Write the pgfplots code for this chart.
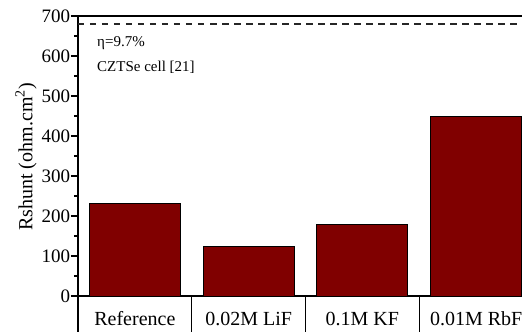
\documentclass[border=0pt]{standalone}
\usepackage{pgfplots}
\pgfplotsset{compat=1.18}
\usepackage{fontspec}
\setmainfont{Liberation Serif}
\definecolor{barred}{RGB}{128,0,0}

\begin{document}
\begin{tikzpicture}[font=\fontsize{19}{22}\selectfont]
\begin{axis}[
  at={(0,0)}, anchor=south west,
  scale only axis,
  width=455pt, height=280pt,
  xmin=-0.5, xmax=3.5,
  ymin=0, ymax=700,
  axis line style={line width=1.1pt},
  every tick/.style={black, line width=1.1pt},
  tick align=outside,
  xtick pos=bottom, ytick pos=left,
  % category boxes: separators at the boundaries, names centred between them
  xtick={-0.5,0.5,1.5,2.5,3.5},
  xticklabels={Reference, 0.02M LiF, 0.1M KF, 0.01M RbF, {}},
  xtick style={/pgfplots/major tick length=36pt},
  xticklabel style={at={(axis cs:\tick,0)}, anchor=base, xshift=56.875pt, yshift=-25.5pt,
    font=\fontsize{20}{24}\selectfont},
  ytick={0,100,...,700},
  minor y tick num=1,
  ytick style={/pgfplots/major tick length=7pt, /pgfplots/minor tick length=4pt},
  /pgf/number format/assume math mode=true,
  ylabel={Rshunt (ohm.cm\textsuperscript{2})},
  ylabel style={at={(axis description cs:0,0.5)}, anchor=center, yshift=52pt, xshift=-1pt,
    font=\fontsize{20}{24}\selectfont},
  ybar, bar width=0.8,
  clip=false,
]
\addplot[ybar, fill=barred, draw=black, line width=0.9pt]
  coordinates {(0,232) (1,123) (2,178) (3,448)};
% efficiency level of the reference cell
\addplot[sharp plot, black!85, line width=1.1pt, dash pattern=on 6.5pt off 5.5pt]
  coordinates {(-0.5,680) (3.5,680)};
\node[anchor=base west, font=\fontsize{15}{17}\selectfont, inner sep=0pt]
  at (axis cs:-0.333,624) {η=9.7\%};
\node[anchor=base west, font=\fontsize{15}{17}\selectfont, inner sep=0pt]
  at (axis cs:-0.333,561) {CZTSe cell [21]};
\end{axis}
\pgfresetboundingbox
\useasboundingbox (-78pt,-35.5pt) rectangle (444pt,296pt);
\end{tikzpicture}
\end{document}
